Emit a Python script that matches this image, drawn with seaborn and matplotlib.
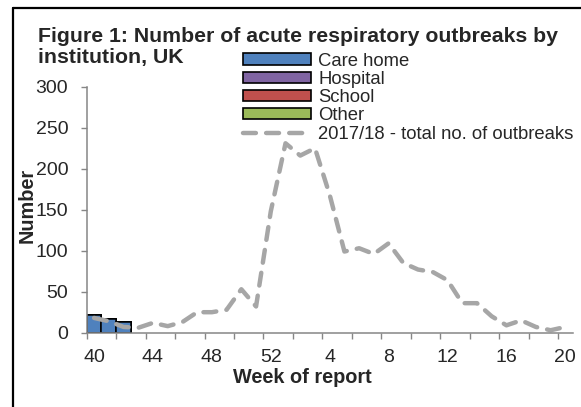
import numpy as np
import pandas as pd
import matplotlib
matplotlib.use("Agg")
import matplotlib.pyplot as plt
import matplotlib.patches as mpatches
from matplotlib.lines import Line2D
import seaborn as sns

# --- Data ---
weeks = [str(w) for w in range(40, 53)] + [str(w) for w in range(1, 21)]
bar_weeks = ["40", "41", "42"]
care_home = [21, 17, 13]
hospital = [0, 0, 0]
school = [0, 0, 0]
other = [0, 0, 0]
total_1718 = [18, 14, 7, 6, 12, 8, 13, 25, 25, 28, 53, 32, 148,
              231, 216, 225, 168, 99, 103, 96, 109, 85, 77, 74, 64,
              36, 36, 20, 9, 15, 7, 3, 7]

colors = {"Care home": "#4F81BD", "Hospital": "#8064A2",
          "School": "#C0504D", "Other": "#9BBB59"}
line_color = "#A6A6A6"
axis_grey = "#868686"

sns.set_style("white")
plt.rcParams["font.family"] = ["Liberation Sans", "DejaVu Sans"]

fig = plt.figure(figsize=(5.81, 4.07), dpi=100)
W, H = 581, 407
ax = fig.add_axes([86.7 / W, 1 - 332.7 / H, 486 / W, 246 / H])

# stacked bars: draw cumulative totals from top layer down
bars = pd.DataFrame({"week": bar_weeks, "Care home": care_home,
                     "Hospital": hospital, "School": school, "Other": other})
layers = ["Care home", "Hospital", "School", "Other"]
for i in range(len(layers) - 1, -1, -1):
    cum = bars[layers[:i + 1]].sum(axis=1)
    sns.barplot(x=bars["week"], y=cum, order=weeks, color=colors[layers[i]],
                width=1.0, edgecolor="black", linewidth=1.1, saturation=1,
                ax=ax)

# previous season total
line_df = pd.DataFrame({"pos": np.arange(len(weeks)), "total": total_1718})
sns.lineplot(data=line_df, x="pos", y="total", color=line_color,
             linewidth=3.2, ax=ax)
ln = ax.lines[-1]
ln.set_linestyle((0, (2.9, 2.3)))
ln.set_dash_capstyle("round")

# --- Axes styling ---
ax.set_xlim(-0.5, len(weeks) - 0.5)
ax.set_ylim(0, 300)
ax.set_yticks(range(0, 301, 50))
ax.set_xticks(np.arange(0, len(weeks), 4))
ax.set_xticklabels(weeks[::4])
ax.set_xticks(np.arange(-0.5, len(weeks) - 1, 2), minor=True)
ax.tick_params(axis="x", which="major", length=0, pad=12, labelsize=14)
ax.tick_params(axis="x", which="minor", length=4, width=1, color=axis_grey,
               direction="out", bottom=True)
ax.tick_params(axis="y", length=4.3, width=1, color=axis_grey, pad=9,
               labelsize=14, left=True)
for s in ["top", "right"]:
    ax.spines[s].set_visible(False)
for s in ["left", "bottom"]:
    ax.spines[s].set_color(axis_grey)
    ax.spines[s].set_linewidth(1.1)

ax.set_xlabel("Week of report", fontsize=14.3, fontweight="bold", va="center")
ax.set_ylabel("Number", fontsize=14.3, fontweight="bold", va="center")
ax.xaxis.set_label_coords(0.444, -0.184)
ax.yaxis.set_label_coords((27 - 86.7) / 486, 0.519)

# --- Legend ---
handles = [mpatches.Patch(facecolor=colors[k], edgecolor="black",
                          linewidth=1.2, label=k) for k in layers]
handles.append(Line2D([], [], color=line_color, linewidth=3.2,
                      linestyle=(0, (2.9, 2.3)), dash_capstyle="round",
                      label="2017/18 - total no. of outbreaks"))
ax.legend(handles=handles, loc="upper left",
          bbox_to_anchor=(242.7 / W, 1 - 52.5 / H),
          bbox_transform=fig.transFigure, frameon=False, borderpad=0,
          borderaxespad=0, handlelength=3.7, handleheight=0.55,
          handletextpad=0.4, labelspacing=0.07, fontsize=13.3)

# --- Title ---
fig.text(38 / W, 1 - 41.7 / H,
         "Figure 1: Number of acute respiratory outbreaks by",
         fontsize=15.3, fontweight="bold", va="baseline")
fig.text(38 / W, 1 - 63 / H, "institution, UK",
         fontsize=15.3, fontweight="bold", va="baseline")

# outer frame (top and left edges visible)
fig.add_artist(Line2D([12.5 / W, 1], [1 - 8 / H, 1 - 8 / H],
                      color="black", linewidth=1.6))
fig.add_artist(Line2D([12.5 / W, 12.5 / W], [0, 1 - 8 / H],
                      color="black", linewidth=1.6))

fig.savefig("out.png", dpi=100)
plt.close(fig)
